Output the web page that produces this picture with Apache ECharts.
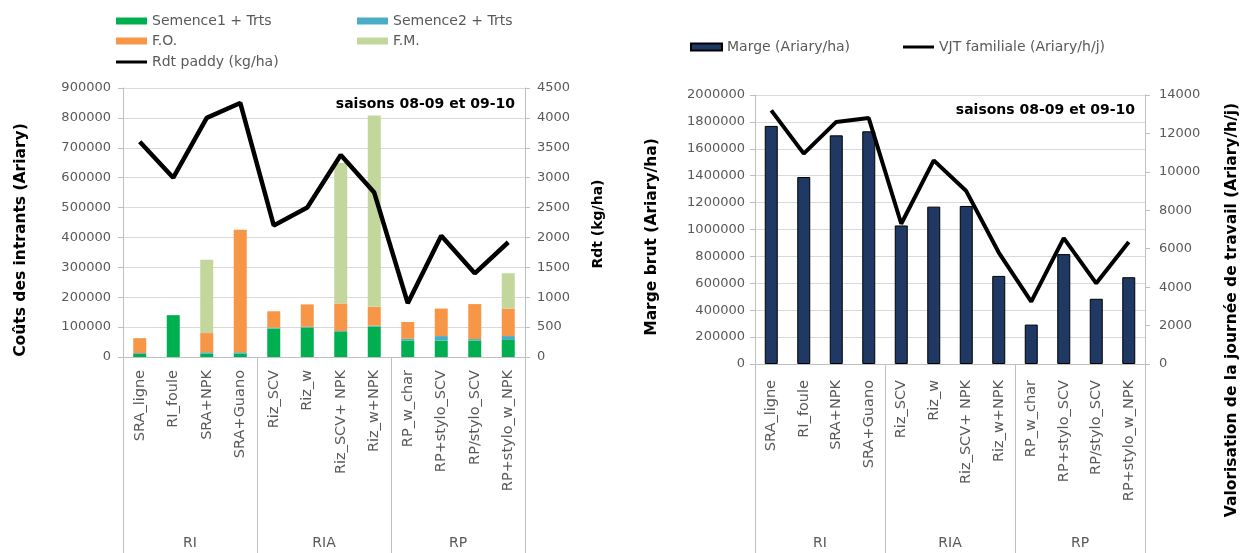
<!DOCTYPE html>
<html>
<head>
<meta charset="utf-8">
<script src="https://cdn.jsdelivr.net/npm/echarts@6/dist/echarts.min.js"></script>
<style>
  html, body { margin: 0; padding: 0; background: #ffffff; }
  #chart { width: 1247px; height: 553px; }
</style>
</head>
<body>
<div id="chart"></div>
<script>
// Treatments, grouped by rice system
const categories = ['SRA_ligne', 'RI_foule', 'SRA+NPK', 'SRA+Guano',
  'Riz_SCV', 'Riz_w', 'Riz_SCV+ NPK', 'Riz_w+NPK',
  'RP_w_char', 'RP+stylo_SCV', 'RP/stylo_SCV', 'RP+stylo_w_NPK'];
const groups = ['RI', 'RIA', 'RP'];

// Input costs (Ariary), stacked
const semence1 = [10000, 140000, 12000, 12000, 95000, 98000, 84000, 102000, 55000, 55000, 55000, 57000];
const semence2 = [3000, 0, 4000, 4000, 3000, 3000, 3000, 3000, 6000, 15000, 5000, 13000];
const fumureOrg = [50000, 0, 64000, 410000, 55000, 75000, 92000, 63000, 56000, 92000, 117000, 92000];
const fumureMin = [0, 0, 245000, 0, 0, 0, 470000, 640000, 0, 0, 0, 118000];

// Paddy yield (kg/ha)
const rdtPaddy = [3600, 3000, 4000, 4250, 2200, 2500, 3380, 2750, 900, 2030, 1400, 1920];

// Gross margin (Ariary/ha) and family labour-day value (Ariary/h/j)
const marge = [1770000, 1390000, 1700000, 1730000, 1030000, 1170000, 1175000, 655000, 293000, 817000, 485000, 645000];
const vjt = [13200, 10950, 12600, 12800, 7300, 10600, 9000, 5800, 3250, 6550, 4200, 6350];

const FONT = 'DejaVu Sans';
const GREY = '#595959';
const LINE_GREY = '#bfbfbf';
const GRID_GREY = '#d9d9d9';

const plain = v => String(v);

function legendItem(name, left, top, icon, h) {
  return {
    data: [name], left: left, top: top, icon: icon,
    itemWidth: 31, itemHeight: h, padding: 0, itemGap: 0,
    selectedMode: false,
    textStyle: { fontFamily: FONT, fontSize: 14, color: GREY }
  };
}

function catAxis(gridIndex, margin) {
  return {
    type: 'category', gridIndex: gridIndex, data: categories,
    axisLine: { show: true, lineStyle: { color: LINE_GREY, width: 1 } },
    axisTick: { show: false },
    axisLabel: { rotate: 90, margin: margin, fontFamily: FONT, fontSize: 14.5, color: GREY, interval: 0 }
  };
}

function groupAxis(gridIndex, tickLen, labelMargin) {
  return {
    type: 'category', gridIndex: gridIndex, data: groups, position: 'bottom',
    axisLine: { show: false },
    axisTick: { show: true, alignWithLabel: false, length: tickLen, lineStyle: { color: LINE_GREY, width: 1 } },
    axisLabel: { margin: labelMargin, fontFamily: FONT, fontSize: 14, color: GREY }
  };
}

function valAxis(gridIndex, pos, max, interval, split, margin) {
  return {
    type: 'value', gridIndex: gridIndex, position: pos, min: 0, max: max, interval: interval,
    axisLine: { show: true, lineStyle: { color: LINE_GREY, width: 1 } },
    axisTick: { show: true, length: 5, lineStyle: { color: LINE_GREY } },
    splitLine: { show: split, lineStyle: { color: GRID_GREY, width: 1 } },
    axisLabel: { formatter: plain, margin: margin, fontFamily: FONT, fontSize: 13, color: GREY }
  };
}

function axisTitle(text, x, y, size) {
  return {
    type: 'text', x: x, y: y, rotation: Math.PI / 2,
    style: { text: text, fill: '#000', font: 'bold ' + size + 'px "' + FONT + '"', textAlign: 'center', textVerticalAlign: 'middle' }
  };
}

function seasonNote(x, y) {
  return {
    type: 'text', x: x, y: y,
    style: { text: 'saisons 08-09 et 09-10', fill: '#000', font: 'bold 14px "' + FONT + '"', textAlign: 'right', textVerticalAlign: 'middle' }
  };
}

const chart = echarts.init(document.getElementById('chart'), null, { renderer: 'canvas' });

chart.setOption({
  animation: false,
  textStyle: { fontFamily: FONT },
  grid: [
    { left: 123, right: 722, top: 88, bottom: 196 },
    { left: 755, right: 102, top: 95, bottom: 189 }
  ],
  legend: [
    legendItem('Semence1 + Trts', 116, 14, 'rect', 7),
    legendItem('Semence2 + Trts', 357, 14, 'rect', 7),
    legendItem('F.O.', 116, 34, 'rect', 7),
    legendItem('F.M.', 357, 34, 'rect', 7),
    legendItem('Rdt paddy (kg/ha)', 116, 55, 'rect', 3),
    legendItem('Marge (Ariary/ha)', 690, 40, 'rect', 7),
    legendItem('VJT familiale (Ariary/h/j)', 903, 40, 'rect', 3)
  ],
  xAxis: [
    catAxis(0, 13),
    groupAxis(0, 196, 179),
    catAxis(1, 16),
    groupAxis(1, 189, 172)
  ],
  yAxis: [
    valAxis(0, 'left', 900000, 100000, true, 12),
    valAxis(0, 'right', 4500, 500, false, 12),
    valAxis(1, 'left', 2000000, 200000, true, 10),
    valAxis(1, 'right', 14000, 2000, false, 14)
  ],
  graphic: [
    axisTitle('Coûts des intrants (Ariary)', 21, 240, 15.5),
    axisTitle('Rdt (kg/ha)', 598, 224, 14),
    axisTitle('Marge brut (Ariary/ha)', 652, 237, 15.5),
    axisTitle('Valorisation de la journée de travail (Ariary/h/j)', 1232, 310, 15.5),
    seasonNote(515, 104),
    seasonNote(1135, 110)
  ],
  series: [
    { name: 'Semence1 + Trts', type: 'bar', xAxisIndex: 0, yAxisIndex: 0, stack: 'intrants', barWidth: 13,
      itemStyle: { color: '#00b050' }, data: semence1 },
    { name: 'Semence2 + Trts', type: 'bar', xAxisIndex: 0, yAxisIndex: 0, stack: 'intrants', barWidth: 13,
      itemStyle: { color: '#4bacc6' }, data: semence2 },
    { name: 'F.O.', type: 'bar', xAxisIndex: 0, yAxisIndex: 0, stack: 'intrants', barWidth: 13,
      itemStyle: { color: '#f79646' }, data: fumureOrg },
    { name: 'F.M.', type: 'bar', xAxisIndex: 0, yAxisIndex: 0, stack: 'intrants', barWidth: 13,
      itemStyle: { color: '#c3d69b' }, data: fumureMin },
    { name: 'Rdt paddy (kg/ha)', type: 'line', xAxisIndex: 0, yAxisIndex: 1, symbol: 'none',
      itemStyle: { color: '#000' }, lineStyle: { color: '#000', width: 4.5 }, data: rdtPaddy },
    { name: 'Marge (Ariary/ha)', type: 'bar', xAxisIndex: 2, yAxisIndex: 2, barWidth: 13,
      itemStyle: { color: '#1f3864', borderColor: '#000', borderWidth: 1 }, data: marge },
    { name: 'VJT familiale (Ariary/h/j)', type: 'line', xAxisIndex: 2, yAxisIndex: 3, symbol: 'none',
      itemStyle: { color: '#000' }, lineStyle: { color: '#000', width: 4 }, data: vjt }
  ]
});
</script>
</body>
</html>
